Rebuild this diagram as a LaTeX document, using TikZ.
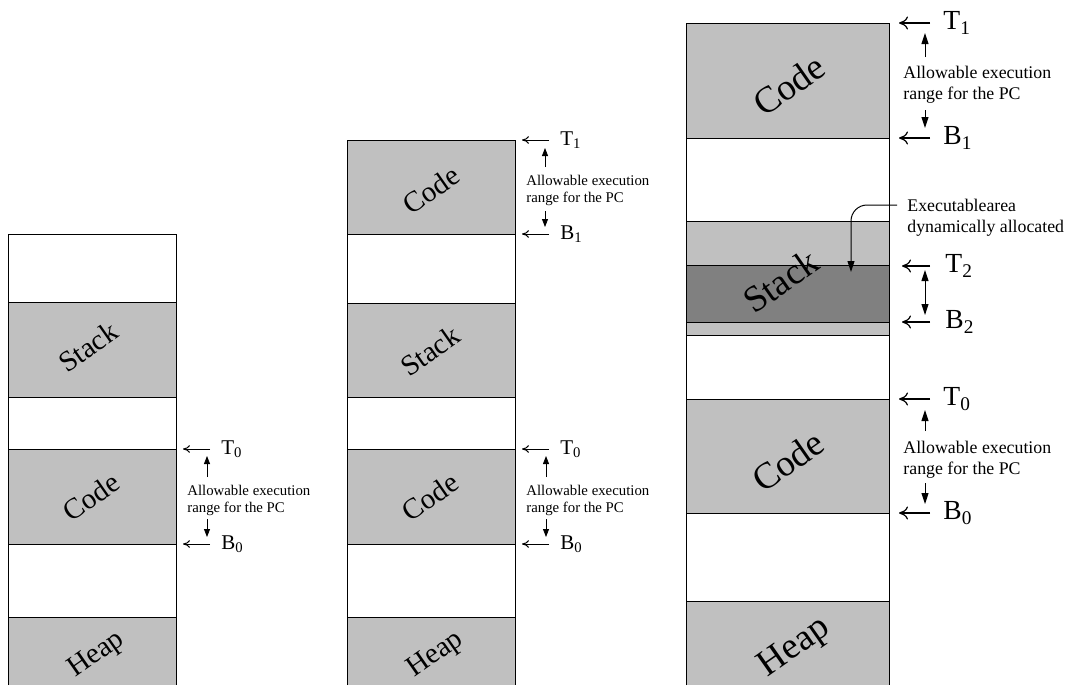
\documentclass[tikz,border=0pt]{standalone}
\usepackage{fontspec}
\setmainfont{Liberation Serif}
\usetikzlibrary{arrows.meta}
\definecolor{seg}{HTML}{C0C0C0}
\definecolor{segdark}{HTML}{808080}
\begin{document}
\begin{tikzpicture}[x=0.5pt,y=-0.5pt]

      \tikzset{band/.style={draw=black, line width=0.5pt},
               full/.style={band, fill=seg},
               memlbl/.style={rotate=35, inner sep=0pt, font=\fontsize{14.5}{14.5}\selectfont},
               bigmemlbl/.style={rotate=35, inner sep=0pt, font=\fontsize{18.5}{18.5}\selectfont},
               bound/.style={anchor=west, inner sep=1pt, font=\fontsize{10.5}{12}\selectfont},
               bigbound/.style={anchor=west, inner sep=1pt, font=\fontsize{13.8}{15}\selectfont},
               pcrange/.style={anchor=north west, align=left, inner sep=0pt, font=\fontsize{7.4}{8.5}\selectfont},
               bigpcrange/.style={anchor=north west, align=left, inner sep=0pt, font=\fontsize{8.9}{10.5}\selectfont},
               ptr/.style={-{Computer Modern Rightarrow[length=3.5pt,width=3.8pt]}, line width=0.5pt},
               bigptr/.style={-{Computer Modern Rightarrow[length=4.5pt,width=6.5pt]}, line width=0.6pt},
               tri/.style={-{Triangle[length=4pt,width=3pt]}, line width=0.4pt},
               bigtri/.style={-{Triangle[length=5.5pt,width=3.5pt]}, line width=0.5pt}}
      \useasboundingbox (0,0) rectangle (1068,685);

%% Column 1
      	\draw[band] (8,234) rectangle (176,302);
      	\draw[full] (8,302) rectangle (176,397);
      	\draw[band] (8,397) rectangle (176,449);
      	\draw[full] (8,449) rectangle (176,544);
      	\draw[band] (8,544) rectangle (176,617);
      	\fill[seg] (8,617) rectangle (176,685);
      	\draw[band] (8,685) -- (8,617) -- (176,617) -- (176,685);
      	\node[memlbl] (stackA) at (88,347) {Stack};
      	\node[memlbl] (codeA) at (91,497) {Code};
      	\node[memlbl] (heapA) at (97,655) {Heap};
%% Column 2
      	\draw[full] (347,140) rectangle (515,234);
      	\draw[band] (347,234) rectangle (515,303);
      	\draw[full] (347,303) rectangle (515,397);
      	\draw[band] (347,397) rectangle (515,449);
      	\draw[full] (347,449) rectangle (515,544);
      	\draw[band] (347,544) rectangle (515,617);
      	\fill[seg] (347,617) rectangle (515,685);
      	\draw[band] (347,685) -- (347,617) -- (515,617) -- (515,685);
      	\node[memlbl] (codeB1) at (431,190) {Code};
      	\node[memlbl] (stackB) at (430,351) {Stack};
      	\node[memlbl] (codeB0) at (430,497) {Code};
      	\node[memlbl] (heapB) at (436,655) {Heap};
%% Column 3
      	\draw[full] (686,23) rectangle (889,138);
      	\draw[band] (686,138) rectangle (889,221);
      	\draw[full] (686,221) rectangle (889,335);
      	\draw[band, fill=segdark] (686,265) rectangle (889,322);
      	\draw[band] (686,335) rectangle (889,399);
      	\draw[full] (686,399) rectangle (889,513);
      	\draw[band] (686,513) rectangle (889,601);
      	\fill[seg] (686,601) rectangle (889,685);
      	\draw[band] (686,685) -- (686,601) -- (889,601) -- (889,685);
      	\node[bigmemlbl] (codeC1) at (789,85) {Code};
      	\node[bigmemlbl] (stackC) at (781,281) {Stack};
      	\node[bigmemlbl] (codeC0) at (788,461) {Code};
      	\node[bigmemlbl] (heapC) at (795,648) {Heap};

%% Bounds, column 1
      	\coordinate (eA0t) at (176,449);
      	\coordinate (eA0b) at (176,544);
      	\node[bound] (tA0) at (219,449) {T\textsubscript{0}};
      	\node[bound] (bA0) at (219,544) {B\textsubscript{0}};
      	\node[pcrange] (rA0) at (187,485) {Allowable execution\\range for the PC};
      	\coordinate (uA0s) at (207,477); \coordinate (uA0e) at (207,456);
      	\coordinate (dA0s) at (207,519); \coordinate (dA0e) at (207,537);
%% Bounds, column 2
      	\coordinate (eB1t) at (515,140);
      	\coordinate (eB1b) at (515,234);
      	\coordinate (eB0t) at (515,449);
      	\coordinate (eB0b) at (515,544);
      	\node[bound] (tB1) at (558,140) {T\textsubscript{1}};
      	\node[bound] (bB1) at (558,234) {B\textsubscript{1}};
      	\node[bound] (tB0) at (558,449) {T\textsubscript{0}};
      	\node[bound] (bB0) at (558,544) {B\textsubscript{0}};
      	\node[pcrange] (rB1) at (526,175) {Allowable execution\\range for the PC};
      	\node[pcrange] (rB0) at (526,485) {Allowable execution\\range for the PC};
      	\coordinate (uB1s) at (545,167); \coordinate (uB1e) at (545,148);
      	\coordinate (dB1s) at (545,211); \coordinate (dB1e) at (545,227);
      	\coordinate (uB0s) at (546,477); \coordinate (uB0e) at (546,456);
      	\coordinate (dB0s) at (546,519); \coordinate (dB0e) at (546,537);
%% Bounds, column 3
      	\coordinate (eC1t) at (889,23);
      	\coordinate (eC1b) at (889,138);
      	\coordinate (eC2t) at (889,266);
      	\coordinate (eC2b) at (889,322);
      	\coordinate (eC0t) at (889,399);
      	\coordinate (eC0b) at (889,513);
      	\node[bigbound] (tC1) at (941,23) {T\textsubscript{1}};
      	\node[bigbound] (bC1) at (941,138) {B\textsubscript{1}};
      	\node[bigbound] (tC2) at (943,266) {T\textsubscript{2}};
      	\node[bigbound] (bC2) at (943,322) {B\textsubscript{2}};
      	\node[bigbound] (tC0) at (941,399) {T\textsubscript{0}};
      	\node[bigbound] (bC0) at (941,513) {B\textsubscript{0}};
      	\node[bigpcrange] (rC1) at (903,66) {Allowable execution\\range for the PC};
      	\node[bigpcrange] (rC0) at (903,441) {Allowable execution\\range for the PC};
      	\node[bigpcrange] (exC) at (907,199) {Executablearea\\dynamically allocated};
      	\coordinate (uC1s) at (925,57); \coordinate (uC1e) at (925,33);
      	\coordinate (dC1s) at (925,110); \coordinate (dC1e) at (925,128);
      	\coordinate (uC0s) at (925,431); \coordinate (uC0e) at (925,410);
      	\coordinate (dC0s) at (925,483); \coordinate (dC0e) at (925,504);
      	\coordinate (sC2t) at (925,270); \coordinate (sC2b) at (925,315);
      	\coordinate (exBend) at (851,205);
      	\coordinate (exTip) at (851,272);

%Pointers
		\draw[ptr, shorten <=4.5pt, shorten >=3.5pt] (tA0.west) -- (eA0t);
		\draw[ptr, shorten <=4.5pt, shorten >=3.5pt] (bA0.west) -- (eA0b);
		\draw[ptr, shorten <=4.5pt, shorten >=3.5pt] (tB1.west) -- (eB1t);
		\draw[ptr, shorten <=4.5pt, shorten >=3.5pt] (bB1.west) -- (eB1b);
		\draw[ptr, shorten <=4.5pt, shorten >=3.5pt] (tB0.west) -- (eB0t);
		\draw[ptr, shorten <=4.5pt, shorten >=3.5pt] (bB0.west) -- (eB0b);
		\draw[bigptr, shorten <=5.5pt, shorten >=5pt] (tC1.west) -- (eC1t);
		\draw[bigptr, shorten <=5.5pt, shorten >=5pt] (bC1.west) -- (eC1b);
		\draw[bigptr, shorten <=6.5pt, shorten >=6.5pt] (tC2.west) -- (eC2t);
		\draw[bigptr, shorten <=6.5pt, shorten >=6.5pt] (bC2.west) -- (eC2b);
		\draw[bigptr, shorten <=5.5pt, shorten >=5pt] (tC0.west) -- (eC0t);
		\draw[bigptr, shorten <=5.5pt, shorten >=5pt] (bC0.west) -- (eC0b);
%Ranges
		\draw[tri] (uA0s) -- (uA0e);
		\draw[tri] (dA0s) -- (dA0e);
		\draw[tri] (uB1s) -- (uB1e);
		\draw[tri] (dB1s) -- (dB1e);
		\draw[tri] (uB0s) -- (uB0e);
		\draw[tri] (dB0s) -- (dB0e);
		\draw[bigtri] (uC1s) -- (uC1e);
		\draw[bigtri] (dC1s) -- (dC1e);
		\draw[bigtri] (uC0s) -- (uC0e);
		\draw[bigtri] (dC0s) -- (dC0e);
		\draw[bigtri, {Triangle[length=5.5pt,width=3.5pt]}-{Triangle[length=5.5pt,width=3.5pt]}] (sC2t) -- (sC2b);
		\draw[bigtri, rounded corners=8pt, shorten <=5pt] (exC.west |- exBend) -- (exBend) -- (exTip);

	\end{tikzpicture}
\end{document}
